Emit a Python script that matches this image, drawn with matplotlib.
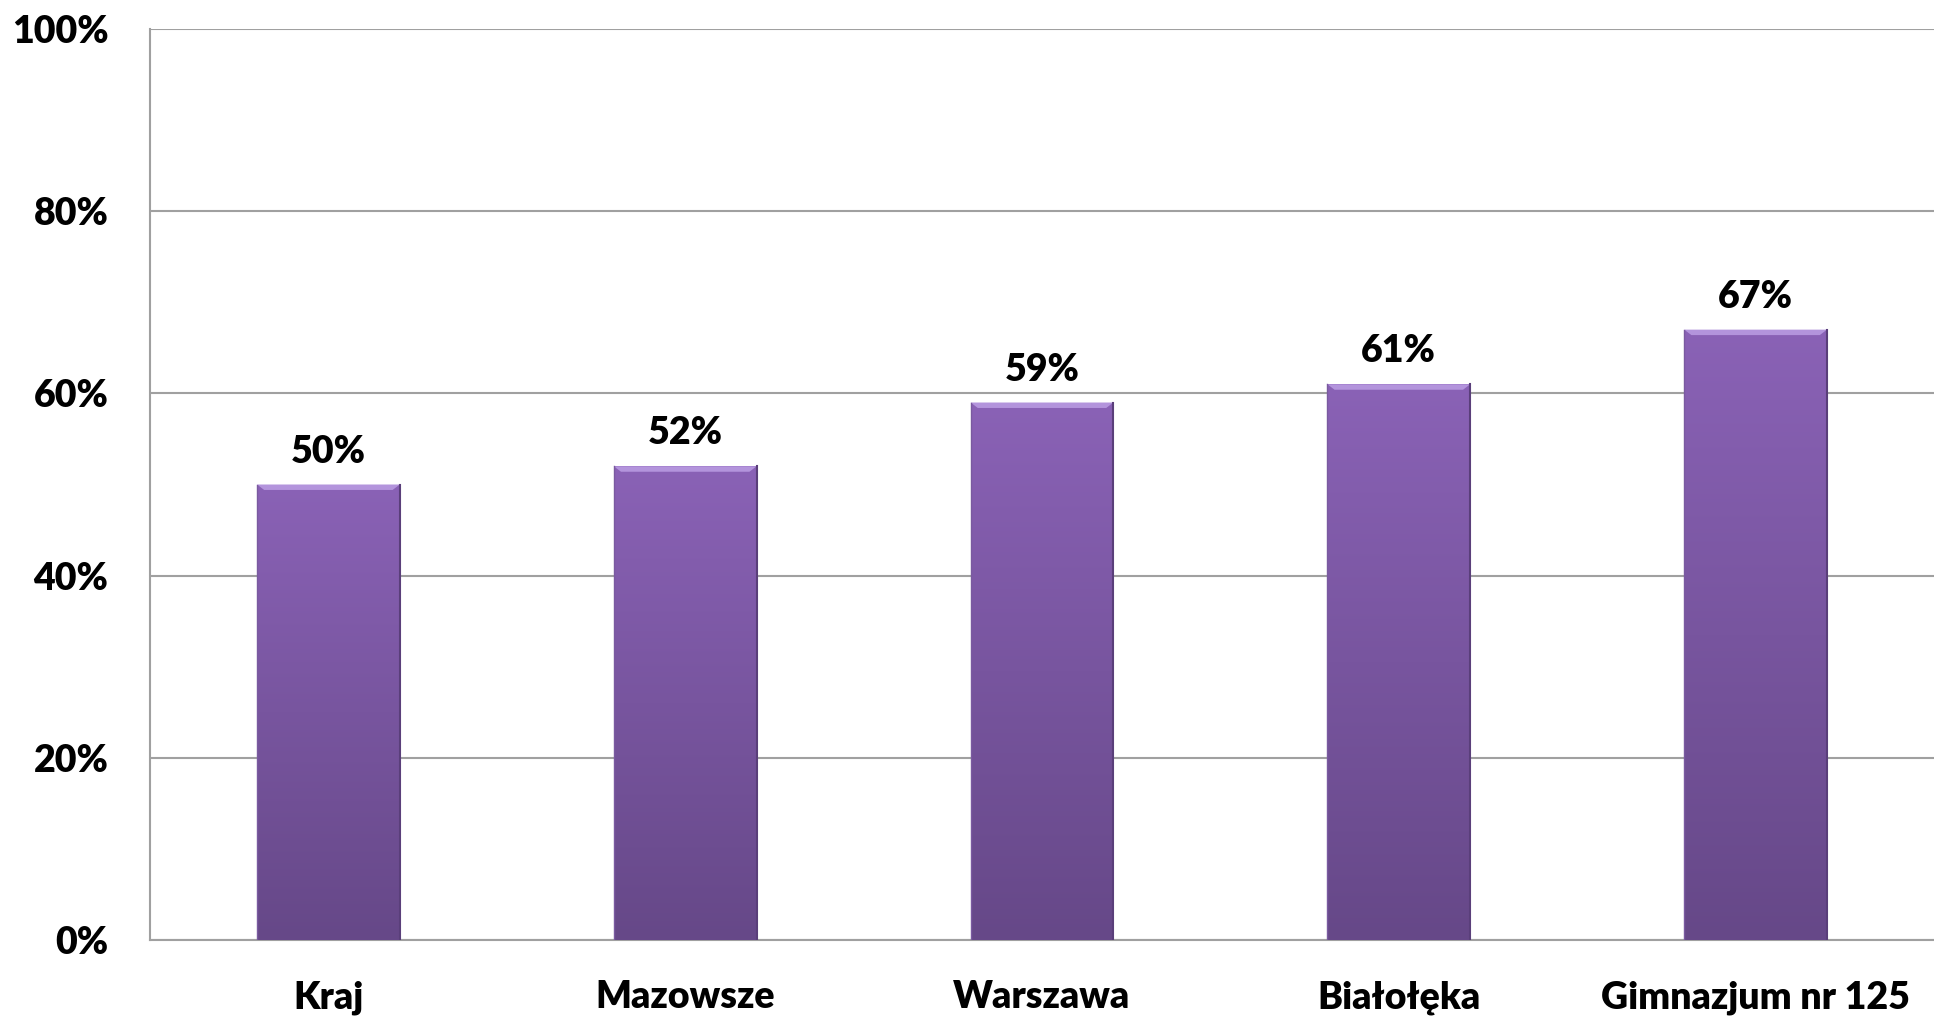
import numpy as np
import matplotlib
matplotlib.use('Agg')
import matplotlib.pyplot as plt
from matplotlib.colors import LinearSegmentedColormap

categories = ['Kraj', 'Mazowsze', 'Warszawa', 'Białołęka', 'Gimnazjum nr 125']
values = [50, 52, 59, 61, 67]
labels = ['50%', '52%', '59%', '61%', '67%']
yticks = [0, 20, 40, 60, 80, 100]

plt.rcParams['font.family'] = ['Lato', 'DejaVu Sans']
FW = 'heavy'
FS = 27

fig = plt.figure(figsize=(19.34, 10.17), dpi=100)
ax = fig.add_axes([150 / 1934, 1 - 940 / 1017, 1 - 150 / 1934, (940 - 29) / 1017])

x = np.arange(len(categories))
width = 0.40
grad = LinearSegmentedColormap.from_list('bar', ['#664888', '#8a62b6'])

bars = ax.bar(x, values, width=width, color='none', edgecolor='none', zorder=3)
g = np.linspace(0, 1, 256).reshape(-1, 1)
for b in bars:
    x0, w, h = b.get_x(), b.get_width(), b.get_height()
    im = ax.imshow(g, cmap=grad, aspect='auto', origin='lower',
                   extent=[x0, x0 + w, 0, h], zorder=3)
    im.set_clip_path(b)
    # top bevel highlight
    ax.fill([x0, x0 + w, x0 + w * 0.95, x0 + w * 0.05],
            [h, h, h - 0.6, h - 0.6], color='#b394dc', zorder=4, lw=0)
    ax.plot([x0 + w, x0 + w], [0, h], color='#5a3f7a', lw=1.5, zorder=5)
    ax.plot([x0, x0], [0, h], color='#7a5aa0', lw=1, zorder=5)

for xi, v, lab in zip(x, values, labels):
    ax.text(xi, v + 3.6, lab, ha='center', va='center', fontsize=FS,
            fontweight=FW, color='black')

ax.set_xlim(-0.5, len(categories) - 0.5)
ax.set_ylim(0, 100)
ax.set_yticks(yticks)
ax.set_yticklabels([f'{t}%' for t in yticks], fontsize=FS, fontweight=FW)
ax.set_xticks(x)
ax.set_xticklabels(categories, fontsize=FS, fontweight=FW)
ax.tick_params(axis='y', length=0, pad=30)
ax.tick_params(axis='x', length=0, pad=29)
ax.grid(axis='y', color='#a0a0a0', lw=1.5, zorder=0)
ax.set_axisbelow(True)
for s in ['top', 'right']:
    ax.spines[s].set_visible(False)
for s in ['left', 'bottom']:
    ax.spines[s].set_color('#a0a0a0')
    ax.spines[s].set_linewidth(1.5)

fig.savefig('out.png', dpi=100)
